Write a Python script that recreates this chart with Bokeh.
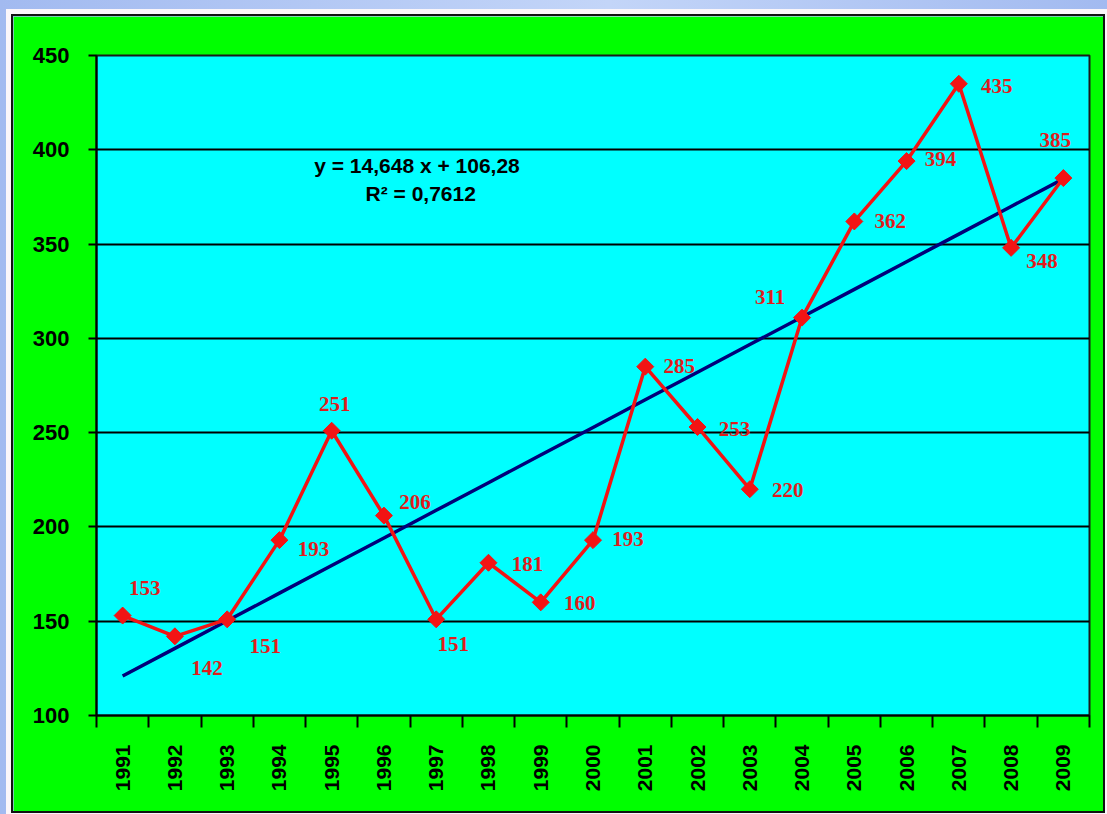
import math

from bokeh.plotting import figure
from bokeh.models import FixedTicker, Label, Range1d, ColumnDataSource
from bokeh.layouts import column
from bokeh.embed import file_html
from bokeh.resources import INLINE
from bokeh.core.properties import value

# Yearly values, 1991-2009
years = [str(y) for y in range(1991, 2010)]
counts = [153, 142, 151, 193, 251, 206, 151, 181, 160, 193,
          285, 253, 220, 311, 362, 394, 435, 348, 385]
y_ticks = [100, 150, 200, 250, 300, 350, 400, 450]

# Linear trend fitted over the year index (1..19)
trend_slope = 14.648
trend_intercept = 106.28
r_squared = 0.7612

# Screen offsets (px) of each value label relative to its point
label_dx = [22, 32, 38, 34, 3, 31, 17, 39, 39, 35, 34, 37, 38, -32, 36, 34, 38, 31, -8]
label_dy = [-28, 32, 27, 9, -27, -14, 25, 1, 1, -1, -1, 2, 1, -21, 0, -2, 2, 13, -38]

xs = list(range(len(years)))
trend = [trend_slope * (i + 1) + trend_intercept for i in xs]

src = ColumnDataSource(dict(
    x=xs, y=counts, label=[str(v) for v in counts], dx=label_dx, dy=label_dy,
))

GREEN = "#00ff00"
CYAN = "#00ffff"
RED = "#f21414"
NAVY = "#00007a"

p = figure(
    width=1090, height=795,
    x_range=Range1d(-0.5, len(years) - 0.5), y_range=Range1d(100, 450),
    output_backend="svg", toolbar_location=None,
    min_border_left=83, min_border_right=14, min_border_top=39, min_border_bottom=96,
    background_fill_color=CYAN, border_fill_color=GREEN,
    outline_line_color="#1a1a1a", outline_line_width=2,
)

# Horizontal grid in black
p.xgrid.visible = False
p.ygrid.grid_line_color = "black"
p.ygrid.grid_line_width = 2

# Y axis
p.yaxis.ticker = FixedTicker(ticks=y_ticks, minor_ticks=[])
p.yaxis.axis_line_color = "black"
p.yaxis.axis_line_width = 2
p.yaxis.major_tick_line_color = "black"
p.yaxis.major_tick_line_width = 2
p.yaxis.major_tick_out = 8
p.yaxis.major_tick_in = 0
p.yaxis.major_label_standoff = 19
p.yaxis.major_label_text_font = "Liberation Sans"
p.yaxis.major_label_text_font_style = "bold"
p.yaxis.major_label_text_font_size = "22px"
p.yaxis.major_label_text_color = "black"

# X axis: year labels centred in each slot, tick marks on the slot boundaries
p.xaxis.ticker = FixedTicker(ticks=xs, minor_ticks=[i - 0.5 for i in range(len(years) + 1)])
p.xaxis.major_label_overrides = {i: y for i, y in zip(xs, years)}
p.xaxis.major_label_orientation = math.pi / 2
p.xaxis.axis_line_color = "black"
p.xaxis.axis_line_width = 2
p.xaxis.major_tick_out = 0
p.xaxis.major_tick_in = 0
p.xaxis.minor_tick_line_color = "black"
p.xaxis.minor_tick_line_width = 2
p.xaxis.minor_tick_out = 12
p.xaxis.minor_tick_in = 0
p.xaxis.major_label_standoff = 17
p.xaxis.major_label_text_font = "Liberation Sans"
p.xaxis.major_label_text_font_style = "bold"
p.xaxis.major_label_text_font_size = "21px"
p.xaxis.major_label_text_color = "black"

# Trend line
p.line(xs, trend, line_color=NAVY, line_width=3.5)

# Data series
p.line("x", "y", source=src, line_color=RED, line_width=3.5)
p.scatter("x", "y", source=src, marker="square", angle=0.785398, size=12,
          fill_color=RED, line_color=RED)
p.text("x", "y", text="label", source=src, x_offset="dx", y_offset="dy",
       text_align="center", text_baseline="middle",
       text_font=value("Liberation Serif"), text_font_style="bold",
       text_font_size="21px", text_color="#e01c1c")

# Regression equation
eq_text = "y =  {:.3f} x  +  {:.2f}".format(trend_slope, trend_intercept).replace(".", ",")
r2_text = "R\u00b2 =  {:.4f}".format(r_squared).replace(".", ",")
p.add_layout(Label(x=5.8, y=391.7, text=eq_text, text_align="center", text_baseline="middle",
                   text_font="Liberation Sans", text_font_style="bold",
                   text_font_size="21px", text_color="black"))
p.add_layout(Label(x=5.76, y=376.8, text=r2_text, text_align="center", text_baseline="middle",
                   text_font="Liberation Sans", text_font_style="bold",
                   text_font_size="21px", text_color="black"))

# Black frame with a thin white ring around the green panel
p.margin = (16, 4, 3, 13)
p.styles = {"box-shadow": "0 0 0 2px #111111, 0 0 0 7px #fbf6fa"}

page = column(p, styles={"background": "linear-gradient(90deg, #a2baf0 0%, #c3d5f8 55%, #a2baf0 100%)"})

open("out.html", "w").write(file_html(page, INLINE))
